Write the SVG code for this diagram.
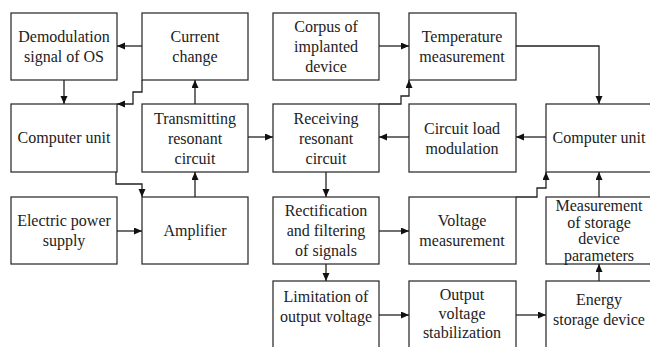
<svg xmlns="http://www.w3.org/2000/svg" width="650" height="347" viewBox="0 0 650 347">
<style>
.box{fill:#fff;stroke:#333;stroke-width:1.3}
.t{font-family:"Liberation Serif","Times New Roman",serif;font-size:16px;fill:#222;text-anchor:middle}
.c{fill:none;stroke:#222;stroke-width:1.3}
</style>
<defs>
<marker id="ah" markerUnits="userSpaceOnUse" markerWidth="9" markerHeight="8" refX="8" refY="3.5" orient="auto">
<path d="M0,0 L8,3.5 L0,7 z" fill="#111"/>
</marker>
</defs>
<rect width="650" height="347" fill="#fff"/>
<g id="demod"><rect class="box" x="11" y="13" width="106" height="67"/><text class="t" x="64" y="42">Demodulation</text><text class="t" x="64" y="62">signal of OS</text></g>
<g id="current"><rect class="box" x="142" y="13" width="106" height="67"/><text class="t" x="195" y="42">Current</text><text class="t" x="195" y="62">change</text></g>
<g id="corpus"><rect class="box" x="273" y="13" width="106" height="67"/><text class="t" x="326" y="32">Corpus of</text><text class="t" x="326" y="52">implanted</text><text class="t" x="326" y="72">device</text></g>
<g id="temp"><rect class="box" x="409" y="13" width="107" height="67"/><text class="t" x="462" y="42">Temperature</text><text class="t" x="462" y="62">measurement</text></g>
<g id="compL"><rect class="box" x="11" y="104" width="106" height="68"/><text class="t" x="64" y="143">Computer unit</text></g>
<g id="transmit"><rect class="box" x="142" y="104" width="106" height="68"/><text class="t" x="195" y="124">Transmitting</text><text class="t" x="195" y="144">resonant</text><text class="t" x="195" y="164">circuit</text></g>
<g id="receiving"><rect class="box" x="273" y="104" width="106" height="68"/><text class="t" x="326" y="124">Receiving</text><text class="t" x="326" y="144">resonant</text><text class="t" x="326" y="164">circuit</text></g>
<g id="load"><rect class="box" x="409" y="104" width="107" height="68"/><text class="t" x="462" y="134">Circuit load</text><text class="t" x="462" y="154">modulation</text></g>
<g id="compR"><rect class="box" x="546" y="104" width="110" height="68"/><text class="t" x="599" y="143">Computer unit</text></g>
<g id="power"><rect class="box" x="11" y="197" width="106" height="67"/><text class="t" x="64" y="226">Electric power</text><text class="t" x="64" y="246">supply</text></g>
<g id="amp"><rect class="box" x="142" y="197" width="106" height="67"/><text class="t" x="195" y="236">Amplifier</text></g>
<g id="rect"><rect class="box" x="273" y="197" width="106" height="67"/><text class="t" x="326" y="216">Rectification</text><text class="t" x="326" y="236">and filtering</text><text class="t" x="326" y="256">of signals</text></g>
<g id="voltage"><rect class="box" x="409" y="197" width="107" height="67"/><text class="t" x="462" y="226">Voltage</text><text class="t" x="462" y="246">measurement</text></g>
<g id="storageMeas"><rect class="box" x="546" y="197" width="110" height="67"/><text class="t" x="599" y="211">Measurement</text><text class="t" x="599" y="227.5">of storage</text><text class="t" x="599" y="244">device</text><text class="t" x="599" y="260.5">parameters</text></g>
<g id="limit"><rect class="box" x="273" y="281" width="106" height="80"/><text class="t" x="326" y="302">Limitation of</text><text class="t" x="326" y="322">output voltage</text></g>
<g id="stab"><rect class="box" x="409" y="281" width="107" height="80"/><text class="t" x="462" y="300">Output</text><text class="t" x="462" y="319">voltage</text><text class="t" x="462" y="338">stabilization</text></g>
<g id="energy"><rect class="box" x="546" y="281" width="110" height="80"/><text class="t" x="599" y="305">Energy</text><text class="t" x="599" y="325">storage device</text></g>
<g id="connectors">
<path class="c" marker-end="url(#ah)" d="M142,46 H117"/>
<path class="c" marker-end="url(#ah)" d="M64,80 V104"/>
<path class="c" marker-end="url(#ah)" d="M142,80 V92 H133 V104 H117"/>
<path class="c" marker-end="url(#ah)" d="M195,104 V80"/>
<path class="c" marker-end="url(#ah)" d="M116,172 V184 H142 V197"/>
<path class="c" marker-end="url(#ah)" d="M117,231 H142"/>
<path class="c" marker-end="url(#ah)" d="M195,197 V172"/>
<path class="c" marker-end="url(#ah)" d="M248,137 H273"/>
<path class="c" marker-end="url(#ah)" d="M409,137 H379"/>
<path class="c" marker-end="url(#ah)" d="M546,137 H516"/>
<path class="c" marker-end="url(#ah)" d="M379,46 H409"/>
<path class="c" marker-end="url(#ah)" d="M379,104 H401 V96 H409 V80"/>
<path class="c" marker-end="url(#ah)" d="M516,46 H599 V104"/>
<path class="c" marker-end="url(#ah)" d="M326,172 V197"/>
<path class="c" marker-end="url(#ah)" d="M379,231 H409"/>
<path class="c" marker-end="url(#ah)" d="M326,264 V281"/>
<path class="c" marker-end="url(#ah)" d="M379,315 H409"/>
<path class="c" marker-end="url(#ah)" d="M516,315 H546"/>
<path class="c" marker-end="url(#ah)" d="M599,281 V264"/>
<path class="c" marker-end="url(#ah)" d="M599,197 V172"/>
<path class="c" marker-end="url(#ah)" d="M516,197 H537 V188 H546 V172"/>
</g>
</svg>
